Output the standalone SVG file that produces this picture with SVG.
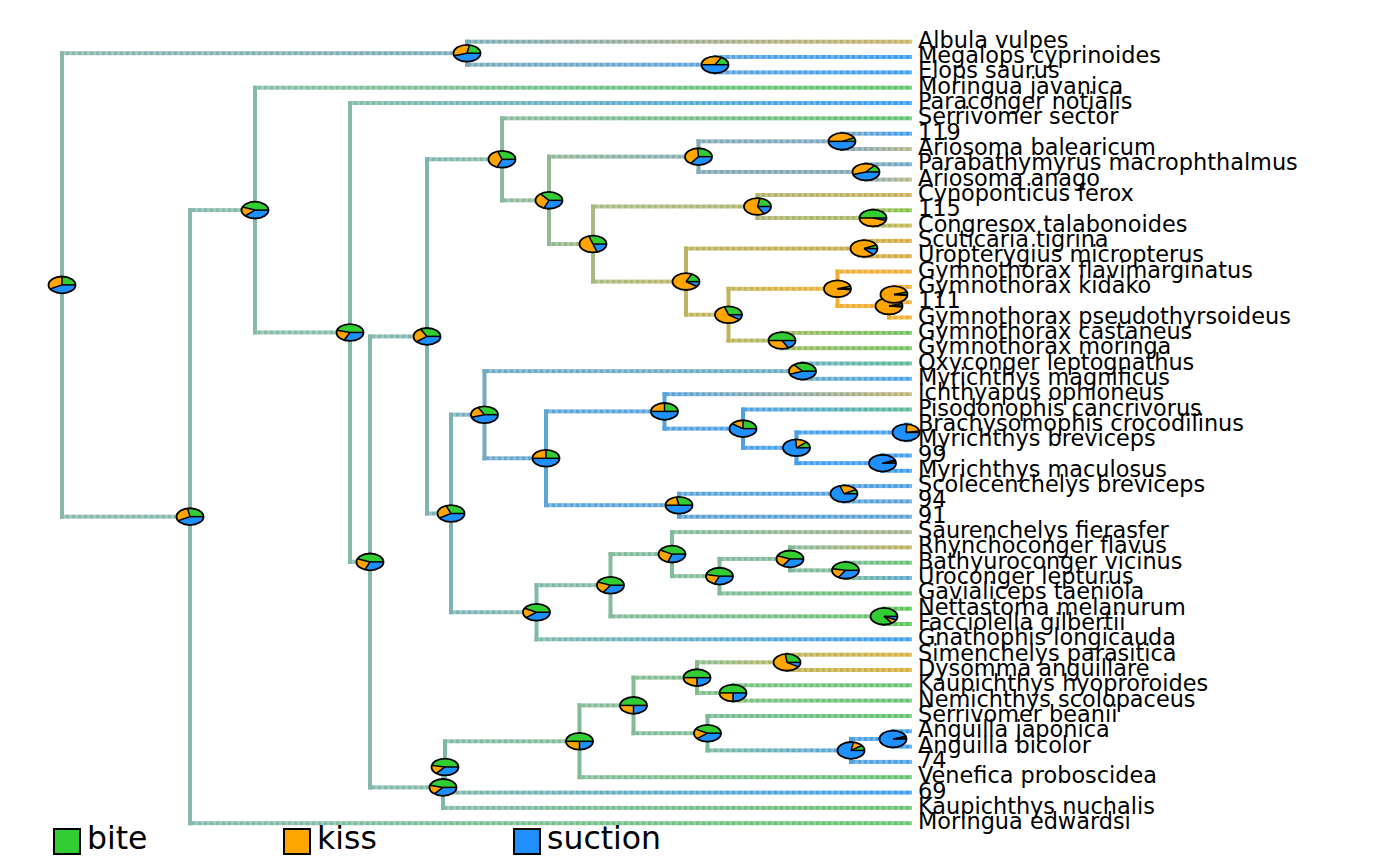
<svg xmlns="http://www.w3.org/2000/svg" xmlns:xlink="http://www.w3.org/1999/xlink" width="1400" height="866" viewBox="0 0 1400 866">
<style>
text{font-family:"DejaVu Sans","Liberation Sans",sans-serif;font-size:22.4px;fill:#000}
.lg{font-size:31.5px}
.v{stroke-width:4;stroke-linecap:square;fill:none}
.pb{fill:#1E90FF}
.pg{fill:none;stroke:#32CD32;stroke-width:13.5}
.po{fill:none;stroke:#FFA500;stroke-width:13.5}
.sep{stroke:#000;stroke-width:1.5;vector-effect:non-scaling-stroke;fill:none}
.ol{fill:none;stroke:#000;stroke-width:1.8}
.key{stroke:#000;stroke-width:2}
</style>
<defs>
<path id="s" class="sep" d="M0 0H13.5"/>
<pattern id="dp" width="6" height="6" patternUnits="userSpaceOnUse"><rect width="3" height="6" fill="#fff"/><rect x="3" width="3" height="6" fill="#c4c4c4"/></pattern>
<mask id="dm" maskUnits="userSpaceOnUse" x="0" y="0" width="1400" height="866"><rect width="1400" height="866" fill="url(#dp)"/></mask>
<linearGradient id="b1"><stop offset="0" stop-color="#88b8ac"/><stop offset="1" stop-color="#7aaab8"/></linearGradient>
<linearGradient id="b2"><stop offset="0" stop-color="#88b8ac"/><stop offset="1" stop-color="#86b8ae"/></linearGradient>
<linearGradient id="b3"><stop offset="0" stop-color="#7aaab8"/><stop offset="1" stop-color="#c8b066"/></linearGradient>
<linearGradient id="b4"><stop offset="0" stop-color="#7aaab8"/><stop offset="1" stop-color="#5ea4dc"/></linearGradient>
<linearGradient id="b5"><stop offset="0" stop-color="#5ea4dc"/><stop offset="1" stop-color="#3c9cf0"/></linearGradient>
<linearGradient id="b7"><stop offset="0" stop-color="#86b8ae"/><stop offset="1" stop-color="#86bca6"/></linearGradient>
<linearGradient id="b8"><stop offset="0" stop-color="#86b8ae"/><stop offset="1" stop-color="#66c46e"/></linearGradient>
<linearGradient id="b9"><stop offset="0" stop-color="#86bca6"/><stop offset="1" stop-color="#60c46a"/></linearGradient>
<linearGradient id="b10"><stop offset="0" stop-color="#86bca6"/><stop offset="1" stop-color="#84bca8"/></linearGradient>
<linearGradient id="b11"><stop offset="0" stop-color="#84bca8"/><stop offset="1" stop-color="#3c9cf0"/></linearGradient>
<linearGradient id="b12"><stop offset="0" stop-color="#84bca8"/><stop offset="1" stop-color="#84b8ac"/></linearGradient>
<linearGradient id="b13"><stop offset="0" stop-color="#84b8ac"/><stop offset="1" stop-color="#7eb2b4"/></linearGradient>
<linearGradient id="b14"><stop offset="0" stop-color="#84b8ac"/><stop offset="1" stop-color="#82b8aa"/></linearGradient>
<linearGradient id="b15"><stop offset="0" stop-color="#7eb2b4"/><stop offset="1" stop-color="#8cba9e"/></linearGradient>
<linearGradient id="b16"><stop offset="0" stop-color="#7eb2b4"/><stop offset="1" stop-color="#7ab2b8"/></linearGradient>
<linearGradient id="b17"><stop offset="0" stop-color="#8cba9e"/><stop offset="1" stop-color="#62c070"/></linearGradient>
<linearGradient id="b18"><stop offset="0" stop-color="#8cba9e"/><stop offset="1" stop-color="#92b896"/></linearGradient>
<linearGradient id="b19"><stop offset="0" stop-color="#92b896"/><stop offset="1" stop-color="#84aab4"/></linearGradient>
<linearGradient id="b20"><stop offset="0" stop-color="#92b896"/><stop offset="1" stop-color="#a6ba82"/></linearGradient>
<linearGradient id="b21"><stop offset="0" stop-color="#84aab4"/><stop offset="1" stop-color="#7ca6c0"/></linearGradient>
<linearGradient id="b22"><stop offset="0" stop-color="#84aab4"/><stop offset="1" stop-color="#86a8b4"/></linearGradient>
<linearGradient id="b23"><stop offset="0" stop-color="#7ca6c0"/><stop offset="1" stop-color="#3c9cf0"/></linearGradient>
<linearGradient id="b24"><stop offset="0" stop-color="#7ca6c0"/><stop offset="1" stop-color="#b4b48a"/></linearGradient>
<linearGradient id="b25"><stop offset="0" stop-color="#86a8b4"/><stop offset="1" stop-color="#6aa8c8"/></linearGradient>
<linearGradient id="b26"><stop offset="0" stop-color="#86a8b4"/><stop offset="1" stop-color="#b8b486"/></linearGradient>
<linearGradient id="b27"><stop offset="0" stop-color="#a6ba82"/><stop offset="1" stop-color="#b0b472"/></linearGradient>
<linearGradient id="b28"><stop offset="0" stop-color="#a6ba82"/><stop offset="1" stop-color="#bcb460"/></linearGradient>
<linearGradient id="b29"><stop offset="0" stop-color="#b0b472"/><stop offset="1" stop-color="#c8b060"/></linearGradient>
<linearGradient id="b30"><stop offset="0" stop-color="#b0b472"/><stop offset="1" stop-color="#a8b868"/></linearGradient>
<linearGradient id="b31"><stop offset="0" stop-color="#a8b868"/><stop offset="1" stop-color="#80c040"/></linearGradient>
<linearGradient id="b32"><stop offset="0" stop-color="#a8b868"/><stop offset="1" stop-color="#c8b450"/></linearGradient>
<linearGradient id="b33"><stop offset="0" stop-color="#bcb460"/><stop offset="1" stop-color="#c8aa50"/></linearGradient>
<linearGradient id="b34"><stop offset="0" stop-color="#bcb460"/><stop offset="1" stop-color="#c0b45a"/></linearGradient>
<linearGradient id="b35"><stop offset="0" stop-color="#c8aa50"/><stop offset="1" stop-color="#d8ac40"/></linearGradient>
<linearGradient id="b37"><stop offset="0" stop-color="#c0b45a"/><stop offset="1" stop-color="#eeb038"/></linearGradient>
<linearGradient id="b38"><stop offset="0" stop-color="#c0b45a"/><stop offset="1" stop-color="#a0b864"/></linearGradient>
<linearGradient id="b45"><stop offset="0" stop-color="#a0b864"/><stop offset="1" stop-color="#70c060"/></linearGradient>
<linearGradient id="b47"><stop offset="0" stop-color="#7ab2b8"/><stop offset="1" stop-color="#72aac4"/></linearGradient>
<linearGradient id="b48"><stop offset="0" stop-color="#7ab2b8"/><stop offset="1" stop-color="#80b8ac"/></linearGradient>
<linearGradient id="b49"><stop offset="0" stop-color="#72aac4"/><stop offset="1" stop-color="#6eaec0"/></linearGradient>
<linearGradient id="b50"><stop offset="0" stop-color="#72aac4"/><stop offset="1" stop-color="#5ea4d4"/></linearGradient>
<linearGradient id="b51"><stop offset="0" stop-color="#6eaec0"/><stop offset="1" stop-color="#5cb896"/></linearGradient>
<linearGradient id="b52"><stop offset="0" stop-color="#6eaec0"/><stop offset="1" stop-color="#4aa0e8"/></linearGradient>
<linearGradient id="b53"><stop offset="0" stop-color="#5ea4d4"/><stop offset="1" stop-color="#58a2dc"/></linearGradient>
<linearGradient id="b55"><stop offset="0" stop-color="#58a2dc"/><stop offset="1" stop-color="#c0b070"/></linearGradient>
<linearGradient id="b56"><stop offset="0" stop-color="#58a2dc"/><stop offset="1" stop-color="#4fa0e4"/></linearGradient>
<linearGradient id="b57"><stop offset="0" stop-color="#4fa0e4"/><stop offset="1" stop-color="#5cb896"/></linearGradient>
<linearGradient id="b58"><stop offset="0" stop-color="#4fa0e4"/><stop offset="1" stop-color="#46a0ea"/></linearGradient>
<linearGradient id="b65"><stop offset="0" stop-color="#5ca4d4"/><stop offset="1" stop-color="#56a0dc"/></linearGradient>
<linearGradient id="b67"><stop offset="0" stop-color="#56a0dc"/><stop offset="1" stop-color="#4a9ee0"/></linearGradient>
<linearGradient id="b69"><stop offset="0" stop-color="#80b8ac"/><stop offset="1" stop-color="#84ba9e"/></linearGradient>
<linearGradient id="b70"><stop offset="0" stop-color="#80b8ac"/><stop offset="1" stop-color="#3c9cf0"/></linearGradient>
<linearGradient id="b72"><stop offset="0" stop-color="#84ba9e"/><stop offset="1" stop-color="#6cc070"/></linearGradient>
<linearGradient id="b73"><stop offset="0" stop-color="#84bc9c"/><stop offset="1" stop-color="#a8b090"/></linearGradient>
<linearGradient id="b76"><stop offset="0" stop-color="#82bc98"/><stop offset="1" stop-color="#66c070"/></linearGradient>
<linearGradient id="b77"><stop offset="0" stop-color="#84b89c"/><stop offset="1" stop-color="#c0b060"/></linearGradient>
<linearGradient id="b79"><stop offset="0" stop-color="#7cba98"/><stop offset="1" stop-color="#66c070"/></linearGradient>
<linearGradient id="b80"><stop offset="0" stop-color="#7cba98"/><stop offset="1" stop-color="#5aa6d0"/></linearGradient>
<linearGradient id="b81"><stop offset="0" stop-color="#6cc070"/><stop offset="1" stop-color="#50c850"/></linearGradient>
<linearGradient id="b84"><stop offset="0" stop-color="#82b8aa"/><stop offset="1" stop-color="#6cc070"/></linearGradient>
<linearGradient id="b85"><stop offset="0" stop-color="#80b8a6"/><stop offset="1" stop-color="#84bc98"/></linearGradient>
<linearGradient id="b86"><stop offset="0" stop-color="#80b8a6"/><stop offset="1" stop-color="#3c9cf0"/></linearGradient>
<linearGradient id="b88"><stop offset="0" stop-color="#84bc98"/><stop offset="1" stop-color="#66c070"/></linearGradient>
<linearGradient id="b90"><stop offset="0" stop-color="#84bc96"/><stop offset="1" stop-color="#7cba9c"/></linearGradient>
<linearGradient id="b91"><stop offset="0" stop-color="#86bc90"/><stop offset="1" stop-color="#bab45c"/></linearGradient>
<linearGradient id="b93"><stop offset="0" stop-color="#bab45c"/><stop offset="1" stop-color="#d8b040"/></linearGradient>
<linearGradient id="b95"><stop offset="0" stop-color="#7cc084"/><stop offset="1" stop-color="#66c070"/></linearGradient>
<linearGradient id="b98"><stop offset="0" stop-color="#7cba9c"/><stop offset="1" stop-color="#56a2dc"/></linearGradient>
<linearGradient id="b99"><stop offset="0" stop-color="#56a2dc"/><stop offset="1" stop-color="#3f9cf2"/></linearGradient>
<linearGradient id="b100"><stop offset="0" stop-color="#56a2dc"/><stop offset="1" stop-color="#4aa0e8"/></linearGradient>
</defs>
<rect width="1400" height="866" fill="#fff"/>
<g id="connectors">
<g id="verticals" class="v">
<line x1="62" y1="53.2" x2="62" y2="516.65" stroke="#88b8ac"/>
<line x1="467" y1="41.7" x2="467" y2="64.7" stroke="#7aaab8"/>
<line x1="715" y1="57" x2="715" y2="72.4" stroke="#5ea4dc"/>
<line x1="190" y1="210.1" x2="190" y2="823.2" stroke="#86b8ae"/>
<line x1="255" y1="87.7" x2="255" y2="332.45" stroke="#86bca6"/>
<line x1="350" y1="103" x2="350" y2="561.9" stroke="#84bca8"/>
<line x1="370" y1="336.4" x2="370" y2="787.4" stroke="#84b8ac"/>
<line x1="427" y1="159.3" x2="427" y2="513.5" stroke="#7eb2b4"/>
<line x1="502" y1="118.3" x2="502" y2="200.35" stroke="#8cba9e"/>
<line x1="549" y1="156.65" x2="549" y2="244.05" stroke="#92b896"/>
<line x1="698.5" y1="141.35" x2="698.5" y2="171.95" stroke="#84aab4"/>
<line x1="842" y1="133.7" x2="842" y2="149" stroke="#7ca6c0"/>
<line x1="866" y1="164.3" x2="866" y2="179.6" stroke="#86a8b4"/>
<line x1="593" y1="206.5" x2="593" y2="281.6" stroke="#a6ba82"/>
<line x1="757.5" y1="195" x2="757.5" y2="217.95" stroke="#b0b472"/>
<line x1="873" y1="210.3" x2="873" y2="225.6" stroke="#a8b868"/>
<line x1="686" y1="248.55" x2="686" y2="314.7" stroke="#bcb460"/>
<line x1="864" y1="240.9" x2="864" y2="256.2" stroke="#c8aa50"/>
<line x1="728.5" y1="288.8" x2="728.5" y2="340.55" stroke="#c0b45a"/>
<line x1="837.5" y1="271.6" x2="837.5" y2="306" stroke="#eeb038"/>
<line x1="889" y1="294.55" x2="889" y2="317.5" stroke="#f0ae34"/>
<line x1="894" y1="286.9" x2="894" y2="302.2" stroke="#f0ae34"/>
<line x1="782" y1="332.9" x2="782" y2="348.2" stroke="#a0b864"/>
<line x1="451" y1="414.7" x2="451" y2="612.25" stroke="#7ab2b8"/>
<line x1="484.5" y1="371.15" x2="484.5" y2="458.3" stroke="#72aac4"/>
<line x1="802.5" y1="363.5" x2="802.5" y2="378.8" stroke="#6eaec0"/>
<line x1="546" y1="411.4" x2="546" y2="505.2" stroke="#5ea4d4"/>
<line x1="664.5" y1="394.2" x2="664.5" y2="428.65" stroke="#58a2dc"/>
<line x1="743" y1="409.5" x2="743" y2="447.8" stroke="#4fa0e4"/>
<line x1="796.5" y1="432.45" x2="796.5" y2="463.15" stroke="#46a0ea"/>
<line x1="906" y1="424.8" x2="906" y2="440.1" stroke="#4a9eea"/>
<line x1="882.5" y1="455.5" x2="882.5" y2="470.8" stroke="#409cf0"/>
<line x1="679" y1="493.75" x2="679" y2="516.7" stroke="#5ca4d4"/>
<line x1="844" y1="486.1" x2="844" y2="501.4" stroke="#56a0dc"/>
<line x1="536.5" y1="585.2" x2="536.5" y2="639.3" stroke="#80b8ac"/>
<line x1="610.5" y1="554.1" x2="610.5" y2="616.35" stroke="#84ba9e"/>
<line x1="672" y1="532.1" x2="672" y2="576.15" stroke="#84bc9c"/>
<line x1="719.5" y1="558.9" x2="719.5" y2="593.4" stroke="#82bc98"/>
<line x1="790" y1="547.4" x2="790" y2="570.35" stroke="#84b89c"/>
<line x1="845.5" y1="562.7" x2="845.5" y2="578" stroke="#7cba98"/>
<line x1="884" y1="608.7" x2="884" y2="624" stroke="#6cc070"/>
<line x1="443" y1="766.95" x2="443" y2="807.9" stroke="#82b8aa"/>
<line x1="445" y1="741.3" x2="445" y2="792.6" stroke="#80b8a6"/>
<line x1="579.5" y1="705.4" x2="579.5" y2="777.2" stroke="#84bc98"/>
<line x1="633.5" y1="677.65" x2="633.5" y2="733.2" stroke="#84bc96"/>
<line x1="697" y1="662.35" x2="697" y2="692.95" stroke="#86bc90"/>
<line x1="787" y1="654.7" x2="787" y2="670" stroke="#bab45c"/>
<line x1="733" y1="685.3" x2="733" y2="700.6" stroke="#7cc084"/>
<line x1="707.5" y1="716" x2="707.5" y2="750.4" stroke="#7cba9c"/>
<line x1="851" y1="738.95" x2="851" y2="761.9" stroke="#56a2dc"/>
<line x1="893" y1="731.3" x2="893" y2="746.6" stroke="#3f9cf2"/>
</g>
<g id="horizontals" mask="url(#dm)">
<rect x="60" y="51.2" width="407" height="4" fill="url(#b1)"/>
<rect x="60" y="514.65" width="130" height="4" fill="url(#b2)"/>
<rect x="465" y="39.7" width="447" height="4" fill="url(#b3)"/>
<rect x="465" y="62.7" width="250" height="4" fill="url(#b4)"/>
<rect x="713" y="55" width="199" height="4" fill="url(#b5)"/>
<rect x="713" y="70.4" width="199" height="4" fill="url(#b5)"/>
<rect x="188" y="208.1" width="67" height="4" fill="url(#b7)"/>
<rect x="188" y="821.2" width="724" height="4" fill="url(#b8)"/>
<rect x="253" y="85.7" width="659" height="4" fill="url(#b9)"/>
<rect x="253" y="330.45" width="97" height="4" fill="url(#b10)"/>
<rect x="348" y="101" width="564" height="4" fill="url(#b11)"/>
<rect x="348" y="559.9" width="22" height="4" fill="url(#b12)"/>
<rect x="368" y="334.4" width="59" height="4" fill="url(#b13)"/>
<rect x="368" y="785.4" width="75" height="4" fill="url(#b14)"/>
<rect x="425" y="157.3" width="77" height="4" fill="url(#b15)"/>
<rect x="425" y="511.5" width="26" height="4" fill="url(#b16)"/>
<rect x="500" y="116.3" width="412" height="4" fill="url(#b17)"/>
<rect x="500" y="198.35" width="49" height="4" fill="url(#b18)"/>
<rect x="547" y="154.65" width="151.5" height="4" fill="url(#b19)"/>
<rect x="547" y="242.05" width="46" height="4" fill="url(#b20)"/>
<rect x="696.5" y="139.35" width="145.5" height="4" fill="url(#b21)"/>
<rect x="696.5" y="169.95" width="169.5" height="4" fill="url(#b22)"/>
<rect x="840" y="131.7" width="72" height="4" fill="url(#b23)"/>
<rect x="840" y="147" width="72" height="4" fill="url(#b24)"/>
<rect x="864" y="162.3" width="48" height="4" fill="url(#b25)"/>
<rect x="864" y="177.6" width="48" height="4" fill="url(#b26)"/>
<rect x="591" y="204.5" width="166.5" height="4" fill="url(#b27)"/>
<rect x="591" y="279.6" width="95" height="4" fill="url(#b28)"/>
<rect x="755.5" y="193" width="156.5" height="4" fill="url(#b29)"/>
<rect x="755.5" y="215.95" width="117.5" height="4" fill="url(#b30)"/>
<rect x="871" y="208.3" width="41" height="4" fill="url(#b31)"/>
<rect x="871" y="223.6" width="41" height="4" fill="url(#b32)"/>
<rect x="684" y="246.55" width="180" height="4" fill="url(#b33)"/>
<rect x="684" y="312.7" width="44.5" height="4" fill="url(#b34)"/>
<rect x="862" y="238.9" width="50" height="4" fill="url(#b35)"/>
<rect x="862" y="254.2" width="50" height="4" fill="url(#b35)"/>
<rect x="726.5" y="286.8" width="111" height="4" fill="url(#b37)"/>
<rect x="726.5" y="338.55" width="55.5" height="4" fill="url(#b38)"/>
<rect x="835.5" y="269.6" width="76.5" height="4" fill="#efae36"/>
<rect x="835.5" y="304" width="53.5" height="4" fill="#f0ae34"/>
<rect x="887" y="292.55" width="7" height="4" fill="#f0ae34"/>
<rect x="887" y="315.5" width="25" height="4" fill="#f0ae34"/>
<rect x="892" y="284.9" width="20" height="4" fill="#f0ae34"/>
<rect x="892" y="300.2" width="20" height="4" fill="#f0ae34"/>
<rect x="780" y="330.9" width="132" height="4" fill="url(#b45)"/>
<rect x="780" y="346.2" width="132" height="4" fill="url(#b45)"/>
<rect x="449" y="412.7" width="35.5" height="4" fill="url(#b47)"/>
<rect x="449" y="610.25" width="87.5" height="4" fill="url(#b48)"/>
<rect x="482.5" y="369.15" width="320" height="4" fill="url(#b49)"/>
<rect x="482.5" y="456.3" width="63.5" height="4" fill="url(#b50)"/>
<rect x="800.5" y="361.5" width="111.5" height="4" fill="url(#b51)"/>
<rect x="800.5" y="376.8" width="111.5" height="4" fill="url(#b52)"/>
<rect x="544" y="409.4" width="120.5" height="4" fill="url(#b53)"/>
<rect x="544" y="503.2" width="135" height="4" fill="#5ca4d4"/>
<rect x="662.5" y="392.2" width="249.5" height="4" fill="url(#b55)"/>
<rect x="662.5" y="426.65" width="80.5" height="4" fill="url(#b56)"/>
<rect x="741" y="407.5" width="171" height="4" fill="url(#b57)"/>
<rect x="741" y="445.8" width="55.5" height="4" fill="url(#b58)"/>
<rect x="794.5" y="430.45" width="111.5" height="4" fill="#48a0ea"/>
<rect x="794.5" y="461.15" width="88" height="4" fill="#429ef0"/>
<rect x="904" y="422.8" width="8" height="4" fill="#3c9cf0"/>
<rect x="904" y="438.1" width="8" height="4" fill="#3c9cf0"/>
<rect x="880.5" y="453.5" width="31.5" height="4" fill="#3c9cf0"/>
<rect x="880.5" y="468.8" width="31.5" height="4" fill="#3c9cf0"/>
<rect x="677" y="491.75" width="167" height="4" fill="url(#b65)"/>
<rect x="677" y="514.7" width="235" height="4" fill="#5aa2d2"/>
<rect x="842" y="484.1" width="70" height="4" fill="url(#b67)"/>
<rect x="842" y="499.4" width="70" height="4" fill="#58a0d6"/>
<rect x="534.5" y="583.2" width="76" height="4" fill="url(#b69)"/>
<rect x="534.5" y="637.3" width="377.5" height="4" fill="url(#b70)"/>
<rect x="608.5" y="552.1" width="63.5" height="4" fill="#84bb9d"/>
<rect x="608.5" y="614.35" width="275.5" height="4" fill="url(#b72)"/>
<rect x="670" y="530.1" width="242" height="4" fill="url(#b73)"/>
<rect x="670" y="574.15" width="49.5" height="4" fill="#83bc9a"/>
<rect x="717.5" y="556.9" width="72.5" height="4" fill="#83ba9a"/>
<rect x="717.5" y="591.4" width="194.5" height="4" fill="url(#b76)"/>
<rect x="788" y="545.4" width="124" height="4" fill="url(#b77)"/>
<rect x="788" y="568.35" width="57.5" height="4" fill="#80b99a"/>
<rect x="843.5" y="560.7" width="68.5" height="4" fill="url(#b79)"/>
<rect x="843.5" y="576" width="68.5" height="4" fill="url(#b80)"/>
<rect x="882" y="606.7" width="30" height="4" fill="url(#b81)"/>
<rect x="882" y="622" width="30" height="4" fill="url(#b81)"/>
<rect x="441" y="764.95" width="4" height="4" fill="#81b8a8"/>
<rect x="441" y="805.9" width="471" height="4" fill="url(#b84)"/>
<rect x="443" y="739.3" width="136.5" height="4" fill="url(#b85)"/>
<rect x="443" y="790.6" width="469" height="4" fill="url(#b86)"/>
<rect x="577.5" y="703.4" width="56" height="4" fill="#84bc97"/>
<rect x="577.5" y="775.2" width="334.5" height="4" fill="url(#b88)"/>
<rect x="631.5" y="675.65" width="65.5" height="4" fill="#85bc93"/>
<rect x="631.5" y="731.2" width="76" height="4" fill="url(#b90)"/>
<rect x="695" y="660.35" width="92" height="4" fill="url(#b91)"/>
<rect x="695" y="690.95" width="38" height="4" fill="#82be8a"/>
<rect x="785" y="652.7" width="127" height="4" fill="url(#b93)"/>
<rect x="785" y="668" width="127" height="4" fill="url(#b93)"/>
<rect x="731" y="683.3" width="181" height="4" fill="url(#b95)"/>
<rect x="731" y="698.6" width="181" height="4" fill="url(#b95)"/>
<rect x="705.5" y="714" width="206.5" height="4" fill="url(#b79)"/>
<rect x="705.5" y="748.4" width="145.5" height="4" fill="url(#b98)"/>
<rect x="849" y="736.95" width="44" height="4" fill="url(#b99)"/>
<rect x="849" y="759.9" width="63" height="4" fill="url(#b100)"/>
<rect x="891" y="729.3" width="21" height="4" fill="#3c9cf0"/>
<rect x="891" y="744.6" width="21" height="4" fill="#3c9cf0"/>
</g>
</g>
<g id="nodes">
<g id="n_root" transform="translate(62 284.9)"><ellipse class="pb" rx="13.5" ry="8.4"/><g transform="scale(1 -0.6222)"><circle class="pg" r="6.75" pathLength="100" stroke-dasharray="25 100"/><circle class="po" r="6.75" pathLength="100" stroke-dasharray="33 100" stroke-dashoffset="-25"/><use href="#s"/><use href="#s" transform="rotate(90)"/><use href="#s" transform="rotate(208.8)"/></g><ellipse class="ol" rx="13.5" ry="8.4"/></g>
<g id="n_A" transform="translate(467 53.2)"><ellipse class="pb" rx="13.5" ry="8.4"/><g transform="scale(1 -0.6222)"><circle class="pg" r="6.75" pathLength="100" stroke-dasharray="22 100"/><circle class="po" r="6.75" pathLength="100" stroke-dasharray="33 100" stroke-dashoffset="-22"/><use href="#s"/><use href="#s" transform="rotate(79.2)"/><use href="#s" transform="rotate(198)"/></g><ellipse class="ol" rx="13.5" ry="8.4"/></g>
<g id="n_ME" transform="translate(715 64.7)"><ellipse class="pb" rx="13.5" ry="8.4"/><g transform="scale(1 -0.6222)"><circle class="pg" r="6.75" pathLength="100" stroke-dasharray="17 100"/><circle class="po" r="6.75" pathLength="100" stroke-dasharray="33 100" stroke-dashoffset="-17"/><use href="#s"/><use href="#s" transform="rotate(61.2)"/><use href="#s" transform="rotate(180)"/></g><ellipse class="ol" rx="13.5" ry="8.4"/></g>
<g id="n_B" transform="translate(190 516.65)"><ellipse class="pb" rx="13.5" ry="8.4"/><g transform="scale(1 -0.6222)"><circle class="pg" r="6.75" pathLength="100" stroke-dasharray="28 100"/><circle class="po" r="6.75" pathLength="100" stroke-dasharray="30 100" stroke-dashoffset="-28"/><use href="#s"/><use href="#s" transform="rotate(100.8)"/><use href="#s" transform="rotate(208.8)"/></g><ellipse class="ol" rx="13.5" ry="8.4"/></g>
<g id="n_C" transform="translate(255 210.1)"><ellipse class="pb" rx="13.5" ry="8.4"/><g transform="scale(1 -0.6222)"><circle class="pg" r="6.75" pathLength="100" stroke-dasharray="44 100"/><circle class="po" r="6.75" pathLength="100" stroke-dasharray="18 100" stroke-dashoffset="-44"/><use href="#s"/><use href="#s" transform="rotate(158.4)"/><use href="#s" transform="rotate(223.2)"/></g><ellipse class="ol" rx="13.5" ry="8.4"/></g>
<g id="n_D" transform="translate(350 332.45)"><ellipse class="pb" rx="13.5" ry="8.4"/><g transform="scale(1 -0.6222)"><circle class="pg" r="6.75" pathLength="100" stroke-dasharray="46 100"/><circle class="po" r="6.75" pathLength="100" stroke-dasharray="22 100" stroke-dashoffset="-46"/><use href="#s"/><use href="#s" transform="rotate(165.6)"/><use href="#s" transform="rotate(244.8)"/></g><ellipse class="ol" rx="13.5" ry="8.4"/></g>
<g id="n_E" transform="translate(370 561.9)"><ellipse class="pb" rx="13.5" ry="8.4"/><g transform="scale(1 -0.6222)"><circle class="pg" r="6.75" pathLength="100" stroke-dasharray="44 100"/><circle class="po" r="6.75" pathLength="100" stroke-dasharray="25 100" stroke-dashoffset="-44"/><use href="#s"/><use href="#s" transform="rotate(158.4)"/><use href="#s" transform="rotate(248.4)"/></g><ellipse class="ol" rx="13.5" ry="8.4"/></g>
<g id="n_F" transform="translate(427 336.4)"><ellipse class="pb" rx="13.5" ry="8.4"/><g transform="scale(1 -0.6222)"><circle class="pg" r="6.75" pathLength="100" stroke-dasharray="33 100"/><circle class="po" r="6.75" pathLength="100" stroke-dasharray="28 100" stroke-dashoffset="-33"/><use href="#s"/><use href="#s" transform="rotate(118.8)"/><use href="#s" transform="rotate(219.6)"/></g><ellipse class="ol" rx="13.5" ry="8.4"/></g>
<g id="n_H" transform="translate(502 159.3)"><ellipse class="pb" rx="13.5" ry="8.4"/><g transform="scale(1 -0.6222)"><circle class="pg" r="6.75" pathLength="100" stroke-dasharray="30 100"/><circle class="po" r="6.75" pathLength="100" stroke-dasharray="39 100" stroke-dashoffset="-30"/><use href="#s"/><use href="#s" transform="rotate(108)"/><use href="#s" transform="rotate(248.4)"/></g><ellipse class="ol" rx="13.5" ry="8.4"/></g>
<g id="n_J" transform="translate(549 200.35)"><ellipse class="pb" rx="13.5" ry="8.4"/><g transform="scale(1 -0.6222)"><circle class="pg" r="6.75" pathLength="100" stroke-dasharray="36 100"/><circle class="po" r="6.75" pathLength="100" stroke-dasharray="33 100" stroke-dashoffset="-36"/><use href="#s"/><use href="#s" transform="rotate(129.6)"/><use href="#s" transform="rotate(248.4)"/></g><ellipse class="ol" rx="13.5" ry="8.4"/></g>
<g id="n_K" transform="translate(698.5 156.65)"><ellipse class="pb" rx="13.5" ry="8.4"/><g transform="scale(1 -0.6222)"><circle class="pg" r="6.75" pathLength="100" stroke-dasharray="26 100"/><circle class="po" r="6.75" pathLength="100" stroke-dasharray="39 100" stroke-dashoffset="-26"/><use href="#s"/><use href="#s" transform="rotate(93.6)"/><use href="#s" transform="rotate(234)"/></g><ellipse class="ol" rx="13.5" ry="8.4"/></g>
<g id="n_119_Abal" transform="translate(842 141.35)"><ellipse class="pb" rx="13.5" ry="8.4"/><g transform="scale(1 -0.6222)"><circle class="pg" r="6.75" pathLength="100" stroke-dasharray="7 100"/><circle class="po" r="6.75" pathLength="100" stroke-dasharray="43 100" stroke-dashoffset="-7"/><use href="#s"/><use href="#s" transform="rotate(25.2)"/><use href="#s" transform="rotate(180)"/></g><ellipse class="ol" rx="13.5" ry="8.4"/></g>
<g id="n_Para_Aana" transform="translate(866 171.95)"><ellipse class="pb" rx="13.5" ry="8.4"/><g transform="scale(1 -0.6222)"><circle class="pg" r="6.75" pathLength="100" stroke-dasharray="14 100"/><circle class="po" r="6.75" pathLength="100" stroke-dasharray="41 100" stroke-dashoffset="-14"/><use href="#s"/><use href="#s" transform="rotate(50.4)"/><use href="#s" transform="rotate(198)"/></g><ellipse class="ol" rx="13.5" ry="8.4"/></g>
<g id="n_L" transform="translate(593 244.05)"><ellipse class="pb" rx="13.5" ry="8.4"/><g transform="scale(1 -0.6222)"><circle class="pg" r="6.75" pathLength="100" stroke-dasharray="30 100"/><circle class="po" r="6.75" pathLength="100" stroke-dasharray="50 100" stroke-dashoffset="-30"/><use href="#s"/><use href="#s" transform="rotate(108)"/><use href="#s" transform="rotate(288)"/></g><ellipse class="ol" rx="13.5" ry="8.4"/></g>
<g id="n_M" transform="translate(757.5 206.5)"><ellipse class="pb" rx="13.5" ry="8.4"/><g transform="scale(1 -0.6222)"><circle class="pg" r="6.75" pathLength="100" stroke-dasharray="22 100"/><circle class="po" r="6.75" pathLength="100" stroke-dasharray="61 100" stroke-dashoffset="-22"/><use href="#s"/><use href="#s" transform="rotate(79.2)"/><use href="#s" transform="rotate(298.8)"/></g><ellipse class="ol" rx="13.5" ry="8.4"/></g>
<g id="n_115_Cong" transform="translate(873 217.95)"><ellipse class="pb" rx="13.5" ry="8.4"/><g transform="scale(1 -0.6222)"><circle class="pg" r="6.75" pathLength="100" stroke-dasharray="50 100"/><circle class="po" r="6.75" pathLength="100" stroke-dasharray="45 100" stroke-dashoffset="-50"/><use href="#s"/><use href="#s" transform="rotate(180)"/><use href="#s" transform="rotate(342)"/></g><ellipse class="ol" rx="13.5" ry="8.4"/></g>
<g id="n_N" transform="translate(686 281.6)"><ellipse class="pb" rx="13.5" ry="8.4"/><g transform="scale(1 -0.6222)"><circle class="pg" r="6.75" pathLength="100" stroke-dasharray="18 100"/><circle class="po" r="6.75" pathLength="100" stroke-dasharray="72 100" stroke-dashoffset="-18"/><use href="#s"/><use href="#s" transform="rotate(64.8)"/><use href="#s" transform="rotate(324)"/></g><ellipse class="ol" rx="13.5" ry="8.4"/></g>
<g id="n_Scut_Urop" transform="translate(864 248.55)"><ellipse class="pb" rx="13.5" ry="8.4"/><g transform="scale(1 -0.6222)"><circle class="pg" r="6.75" pathLength="100" stroke-dasharray="7 100"/><circle class="po" r="6.75" pathLength="100" stroke-dasharray="80 100" stroke-dashoffset="-7"/><use href="#s"/><use href="#s" transform="rotate(25.2)"/><use href="#s" transform="rotate(313.2)"/></g><ellipse class="ol" rx="13.5" ry="8.4"/></g>
<g id="n_O" transform="translate(728.5 314.7)"><ellipse class="pb" rx="13.5" ry="8.4"/><g transform="scale(1 -0.6222)"><circle class="pg" r="6.75" pathLength="100" stroke-dasharray="30 100"/><circle class="po" r="6.75" pathLength="100" stroke-dasharray="60 100" stroke-dashoffset="-30"/><use href="#s"/><use href="#s" transform="rotate(108)"/><use href="#s" transform="rotate(324)"/></g><ellipse class="ol" rx="13.5" ry="8.4"/></g>
<g id="n_P" transform="translate(837.5 288.8)"><ellipse class="pb" rx="13.5" ry="8.4"/><g transform="scale(1 -0.6222)"><circle class="pg" r="6.75" pathLength="100" stroke-dasharray="5 100"/><circle class="po" r="6.75" pathLength="100" stroke-dasharray="93 100" stroke-dashoffset="-5"/><use href="#s"/><use href="#s" transform="rotate(18)"/><use href="#s" transform="rotate(352.8)"/></g><ellipse class="ol" rx="13.5" ry="8.4"/></g>
<g id="n_R" transform="translate(889 306)"><ellipse class="pb" rx="13.5" ry="8.4"/><g transform="scale(1 -0.6222)"><circle class="pg" r="6.75" pathLength="100" stroke-dasharray="5 100"/><circle class="po" r="6.75" pathLength="100" stroke-dasharray="93 100" stroke-dashoffset="-5"/><use href="#s"/><use href="#s" transform="rotate(18)"/><use href="#s" transform="rotate(352.8)"/></g><ellipse class="ol" rx="13.5" ry="8.4"/></g>
<g id="n_S" transform="translate(894 294.55)"><ellipse class="pb" rx="13.5" ry="8.4"/><g transform="scale(1 -0.6222)"><circle class="pg" r="6.75" pathLength="100" stroke-dasharray="5 100"/><circle class="po" r="6.75" pathLength="100" stroke-dasharray="93 100" stroke-dashoffset="-5"/><use href="#s"/><use href="#s" transform="rotate(18)"/><use href="#s" transform="rotate(352.8)"/></g><ellipse class="ol" rx="13.5" ry="8.4"/></g>
<g id="n_Q" transform="translate(782 340.55)"><ellipse class="pb" rx="13.5" ry="8.4"/><g transform="scale(1 -0.6222)"><circle class="pg" r="6.75" pathLength="100" stroke-dasharray="50 100"/><circle class="po" r="6.75" pathLength="100" stroke-dasharray="33 100" stroke-dashoffset="-50"/><use href="#s"/><use href="#s" transform="rotate(180)"/><use href="#s" transform="rotate(298.8)"/></g><ellipse class="ol" rx="13.5" ry="8.4"/></g>
<g id="n_I" transform="translate(451 513.5)"><ellipse class="pb" rx="13.5" ry="8.4"/><g transform="scale(1 -0.6222)"><circle class="pg" r="6.75" pathLength="100" stroke-dasharray="31 100"/><circle class="po" r="6.75" pathLength="100" stroke-dasharray="28 100" stroke-dashoffset="-31"/><use href="#s"/><use href="#s" transform="rotate(111.6)"/><use href="#s" transform="rotate(212.4)"/></g><ellipse class="ol" rx="13.5" ry="8.4"/></g>
<g id="n_T" transform="translate(484.5 414.7)"><ellipse class="pb" rx="13.5" ry="8.4"/><g transform="scale(1 -0.6222)"><circle class="pg" r="6.75" pathLength="100" stroke-dasharray="33 100"/><circle class="po" r="6.75" pathLength="100" stroke-dasharray="22 100" stroke-dashoffset="-33"/><use href="#s"/><use href="#s" transform="rotate(118.8)"/><use href="#s" transform="rotate(198)"/></g><ellipse class="ol" rx="13.5" ry="8.4"/></g>
<g id="n_Oxy_Mmag" transform="translate(802.5 371.15)"><ellipse class="pb" rx="13.5" ry="8.4"/><g transform="scale(1 -0.6222)"><circle class="pg" r="6.75" pathLength="100" stroke-dasharray="36 100"/><circle class="po" r="6.75" pathLength="100" stroke-dasharray="20 100" stroke-dashoffset="-36"/><use href="#s"/><use href="#s" transform="rotate(129.6)"/><use href="#s" transform="rotate(201.6)"/></g><ellipse class="ol" rx="13.5" ry="8.4"/></g>
<g id="n_V" transform="translate(546 458.3)"><ellipse class="pb" rx="13.5" ry="8.4"/><g transform="scale(1 -0.6222)"><circle class="pg" r="6.75" pathLength="100" stroke-dasharray="25 100"/><circle class="po" r="6.75" pathLength="100" stroke-dasharray="25 100" stroke-dashoffset="-25"/><use href="#s"/><use href="#s" transform="rotate(90)"/><use href="#s" transform="rotate(180)"/></g><ellipse class="ol" rx="13.5" ry="8.4"/></g>
<g id="n_W" transform="translate(664.5 411.4)"><ellipse class="pb" rx="13.5" ry="8.4"/><g transform="scale(1 -0.6222)"><circle class="pg" r="6.75" pathLength="100" stroke-dasharray="25 100"/><circle class="po" r="6.75" pathLength="100" stroke-dasharray="25 100" stroke-dashoffset="-25"/><use href="#s"/><use href="#s" transform="rotate(90)"/><use href="#s" transform="rotate(180)"/></g><ellipse class="ol" rx="13.5" ry="8.4"/></g>
<g id="n_Y" transform="translate(743 428.65)"><ellipse class="pb" rx="13.5" ry="8.4"/><g transform="scale(1 -0.6222)"><circle class="pg" r="6.75" pathLength="100" stroke-dasharray="25 100"/><circle class="po" r="6.75" pathLength="100" stroke-dasharray="15 100" stroke-dashoffset="-25"/><use href="#s"/><use href="#s" transform="rotate(90)"/><use href="#s" transform="rotate(144)"/></g><ellipse class="ol" rx="13.5" ry="8.4"/></g>
<g id="n_Z" transform="translate(796.5 447.8)"><ellipse class="pb" rx="13.5" ry="8.4"/><g transform="scale(1 -0.6222)"><circle class="pg" r="6.75" pathLength="100" stroke-dasharray="12 100"/><circle class="po" r="6.75" pathLength="100" stroke-dasharray="14 100" stroke-dashoffset="-12"/><use href="#s"/><use href="#s" transform="rotate(43.2)"/><use href="#s" transform="rotate(93.6)"/></g><ellipse class="ol" rx="13.5" ry="8.4"/></g>
<g id="n_Brach_Mbrev" transform="translate(906 432.45)"><ellipse class="pb" rx="13.5" ry="8.4"/><g transform="scale(1 -0.6222)"><circle class="pg" r="6.75" pathLength="100" stroke-dasharray="3 100"/><circle class="po" r="6.75" pathLength="100" stroke-dasharray="21 100" stroke-dashoffset="-3"/><use href="#s"/><use href="#s" transform="rotate(10.8)"/><use href="#s" transform="rotate(86.4)"/></g><ellipse class="ol" rx="13.5" ry="8.4"/></g>
<g id="n_99_Mmac" transform="translate(882.5 463.15)"><ellipse class="pb" rx="13.5" ry="8.4"/><g transform="scale(1 -0.6222)"><circle class="pg" r="6.75" pathLength="100" stroke-dasharray="3 100"/><circle class="po" r="6.75" pathLength="100" stroke-dasharray="3 100" stroke-dashoffset="-3"/><use href="#s"/><use href="#s" transform="rotate(10.8)"/><use href="#s" transform="rotate(21.6)"/></g><ellipse class="ol" rx="13.5" ry="8.4"/></g>
<g id="n_X" transform="translate(679 505.2)"><ellipse class="pb" rx="13.5" ry="8.4"/><g transform="scale(1 -0.6222)"><circle class="pg" r="6.75" pathLength="100" stroke-dasharray="28 100"/><circle class="po" r="6.75" pathLength="100" stroke-dasharray="22 100" stroke-dashoffset="-28"/><use href="#s"/><use href="#s" transform="rotate(100.8)"/><use href="#s" transform="rotate(180)"/></g><ellipse class="ol" rx="13.5" ry="8.4"/></g>
<g id="n_Scol_94" transform="translate(844 493.75)"><ellipse class="pb" rx="13.5" ry="8.4"/><g transform="scale(1 -0.6222)"><circle class="pg" r="6.75" pathLength="100" stroke-dasharray="8 100"/><circle class="po" r="6.75" pathLength="100" stroke-dasharray="22 100" stroke-dashoffset="-8"/><use href="#s"/><use href="#s" transform="rotate(28.8)"/><use href="#s" transform="rotate(108)"/></g><ellipse class="ol" rx="13.5" ry="8.4"/></g>
<g id="n_U" transform="translate(536.5 612.25)"><ellipse class="pb" rx="13.5" ry="8.4"/><g transform="scale(1 -0.6222)"><circle class="pg" r="6.75" pathLength="100" stroke-dasharray="42 100"/><circle class="po" r="6.75" pathLength="100" stroke-dasharray="19 100" stroke-dashoffset="-42"/><use href="#s"/><use href="#s" transform="rotate(151.2)"/><use href="#s" transform="rotate(219.6)"/></g><ellipse class="ol" rx="13.5" ry="8.4"/></g>
<g id="n_AA" transform="translate(610.5 585.2)"><ellipse class="pb" rx="13.5" ry="8.4"/><g transform="scale(1 -0.6222)"><circle class="pg" r="6.75" pathLength="100" stroke-dasharray="44 100"/><circle class="po" r="6.75" pathLength="100" stroke-dasharray="22 100" stroke-dashoffset="-44"/><use href="#s"/><use href="#s" transform="rotate(158.4)"/><use href="#s" transform="rotate(237.6)"/></g><ellipse class="ol" rx="13.5" ry="8.4"/></g>
<g id="n_AB" transform="translate(672 554.1)"><ellipse class="pb" rx="13.5" ry="8.4"/><g transform="scale(1 -0.6222)"><circle class="pg" r="6.75" pathLength="100" stroke-dasharray="42 100"/><circle class="po" r="6.75" pathLength="100" stroke-dasharray="28 100" stroke-dashoffset="-42"/><use href="#s"/><use href="#s" transform="rotate(151.2)"/><use href="#s" transform="rotate(252)"/></g><ellipse class="ol" rx="13.5" ry="8.4"/></g>
<g id="n_AC" transform="translate(719.5 576.15)"><ellipse class="pb" rx="13.5" ry="8.4"/><g transform="scale(1 -0.6222)"><circle class="pg" r="6.75" pathLength="100" stroke-dasharray="47 100"/><circle class="po" r="6.75" pathLength="100" stroke-dasharray="22 100" stroke-dashoffset="-47"/><use href="#s"/><use href="#s" transform="rotate(169.2)"/><use href="#s" transform="rotate(248.4)"/></g><ellipse class="ol" rx="13.5" ry="8.4"/></g>
<g id="n_AD" transform="translate(790 558.9)"><ellipse class="pb" rx="13.5" ry="8.4"/><g transform="scale(1 -0.6222)"><circle class="pg" r="6.75" pathLength="100" stroke-dasharray="44 100"/><circle class="po" r="6.75" pathLength="100" stroke-dasharray="22 100" stroke-dashoffset="-44"/><use href="#s"/><use href="#s" transform="rotate(158.4)"/><use href="#s" transform="rotate(237.6)"/></g><ellipse class="ol" rx="13.5" ry="8.4"/></g>
<g id="n_Bath_Uroc" transform="translate(845.5 570.35)"><ellipse class="pb" rx="13.5" ry="8.4"/><g transform="scale(1 -0.6222)"><circle class="pg" r="6.75" pathLength="100" stroke-dasharray="47 100"/><circle class="po" r="6.75" pathLength="100" stroke-dasharray="19 100" stroke-dashoffset="-47"/><use href="#s"/><use href="#s" transform="rotate(169.2)"/><use href="#s" transform="rotate(237.6)"/></g><ellipse class="ol" rx="13.5" ry="8.4"/></g>
<g id="n_Nett_Facc" transform="translate(884 616.35)"><ellipse class="pb" rx="13.5" ry="8.4"/><g transform="scale(1 -0.6222)"><circle class="pg" r="6.75" pathLength="100" stroke-dasharray="85 100"/><circle class="po" r="6.75" pathLength="100" stroke-dasharray="8 100" stroke-dashoffset="-85"/><use href="#s"/><use href="#s" transform="rotate(306)"/><use href="#s" transform="rotate(334.8)"/></g><ellipse class="ol" rx="13.5" ry="8.4"/></g>
<g id="n_GG" transform="translate(445 766.95)"><ellipse class="pb" rx="13.5" ry="8.4"/><g transform="scale(1 -0.6222)"><circle class="pg" r="6.75" pathLength="100" stroke-dasharray="47 100"/><circle class="po" r="6.75" pathLength="100" stroke-dasharray="17 100" stroke-dashoffset="-47"/><use href="#s"/><use href="#s" transform="rotate(169.2)"/><use href="#s" transform="rotate(230.4)"/></g><ellipse class="ol" rx="13.5" ry="8.4"/></g>
<g id="n_G" transform="translate(443 787.4)"><ellipse class="pb" rx="13.5" ry="8.4"/><g transform="scale(1 -0.6222)"><circle class="pg" r="6.75" pathLength="100" stroke-dasharray="46 100"/><circle class="po" r="6.75" pathLength="100" stroke-dasharray="18 100" stroke-dashoffset="-46"/><use href="#s"/><use href="#s" transform="rotate(165.6)"/><use href="#s" transform="rotate(230.4)"/></g><ellipse class="ol" rx="13.5" ry="8.4"/></g>
<g id="n_HH" transform="translate(579.5 741.3)"><ellipse class="pb" rx="13.5" ry="8.4"/><g transform="scale(1 -0.6222)"><circle class="pg" r="6.75" pathLength="100" stroke-dasharray="50 100"/><circle class="po" r="6.75" pathLength="100" stroke-dasharray="25 100" stroke-dashoffset="-50"/><use href="#s"/><use href="#s" transform="rotate(180)"/><use href="#s" transform="rotate(270)"/></g><ellipse class="ol" rx="13.5" ry="8.4"/></g>
<g id="n_II" transform="translate(633.5 705.4)"><ellipse class="pb" rx="13.5" ry="8.4"/><g transform="scale(1 -0.6222)"><circle class="pg" r="6.75" pathLength="100" stroke-dasharray="50 100"/><circle class="po" r="6.75" pathLength="100" stroke-dasharray="25 100" stroke-dashoffset="-50"/><use href="#s"/><use href="#s" transform="rotate(180)"/><use href="#s" transform="rotate(270)"/></g><ellipse class="ol" rx="13.5" ry="8.4"/></g>
<g id="n_JJ" transform="translate(697 677.65)"><ellipse class="pb" rx="13.5" ry="8.4"/><g transform="scale(1 -0.6222)"><circle class="pg" r="6.75" pathLength="100" stroke-dasharray="50 100"/><circle class="po" r="6.75" pathLength="100" stroke-dasharray="25 100" stroke-dashoffset="-50"/><use href="#s"/><use href="#s" transform="rotate(180)"/><use href="#s" transform="rotate(270)"/></g><ellipse class="ol" rx="13.5" ry="8.4"/></g>
<g id="n_Sime_Dyso" transform="translate(787 662.35)"><ellipse class="pb" rx="13.5" ry="8.4"/><g transform="scale(1 -0.6222)"><circle class="pg" r="6.75" pathLength="100" stroke-dasharray="27 100"/><circle class="po" r="6.75" pathLength="100" stroke-dasharray="64 100" stroke-dashoffset="-27"/><use href="#s"/><use href="#s" transform="rotate(97.2)"/><use href="#s" transform="rotate(327.6)"/></g><ellipse class="ol" rx="13.5" ry="8.4"/></g>
<g id="n_Kaup_Nemi" transform="translate(733 692.95)"><ellipse class="pb" rx="13.5" ry="8.4"/><g transform="scale(1 -0.6222)"><circle class="pg" r="6.75" pathLength="100" stroke-dasharray="50 100"/><circle class="po" r="6.75" pathLength="100" stroke-dasharray="25 100" stroke-dashoffset="-50"/><use href="#s"/><use href="#s" transform="rotate(180)"/><use href="#s" transform="rotate(270)"/></g><ellipse class="ol" rx="13.5" ry="8.4"/></g>
<g id="n_KK" transform="translate(707.5 733.2)"><ellipse class="pb" rx="13.5" ry="8.4"/><g transform="scale(1 -0.6222)"><circle class="pg" r="6.75" pathLength="100" stroke-dasharray="42 100"/><circle class="po" r="6.75" pathLength="100" stroke-dasharray="19 100" stroke-dashoffset="-42"/><use href="#s"/><use href="#s" transform="rotate(151.2)"/><use href="#s" transform="rotate(219.6)"/></g><ellipse class="ol" rx="13.5" ry="8.4"/></g>
<g id="n_LL" transform="translate(851 750.4)"><ellipse class="pb" rx="13.5" ry="8.4"/><g transform="scale(1 -0.6222)"><circle class="pg" r="6.75" pathLength="100" stroke-dasharray="10 100"/><circle class="po" r="6.75" pathLength="100" stroke-dasharray="12 100" stroke-dashoffset="-10"/><use href="#s"/><use href="#s" transform="rotate(36)"/><use href="#s" transform="rotate(79.2)"/></g><ellipse class="ol" rx="13.5" ry="8.4"/></g>
<g id="n_Anguilla" transform="translate(893 738.95)"><ellipse class="pb" rx="13.5" ry="8.4"/><g transform="scale(1 -0.6222)"><circle class="pg" r="6.75" pathLength="100" stroke-dasharray="2 100"/><circle class="po" r="6.75" pathLength="100" stroke-dasharray="3 100" stroke-dashoffset="-2"/><use href="#s"/><use href="#s" transform="rotate(7.2)"/><use href="#s" transform="rotate(18)"/></g><ellipse class="ol" rx="13.5" ry="8.4"/></g>
</g>
<g id="tips">
<g id="t0"><text x="918" y="47.7">Albula vulpes</text></g>
<g id="t1"><text x="918" y="63">Megalops cyprinoides</text></g>
<g id="t2"><text x="918" y="78.4">Elops saurus</text></g>
<g id="t3"><text x="918" y="93.7">Moringua javanica</text></g>
<g id="t4"><text x="918" y="109">Paraconger notialis</text></g>
<g id="t5"><text x="918" y="124.3">Serrivomer sector</text></g>
<g id="t6"><text x="918" y="139.7">119</text></g>
<g id="t7"><text x="918" y="155">Ariosoma balearicum</text></g>
<g id="t8"><text x="918" y="170.3">Parabathymyrus macrophthalmus</text></g>
<g id="t9"><text x="918" y="185.6">Ariosoma anago</text></g>
<g id="t10"><text x="918" y="201">Cynoponticus ferox</text></g>
<g id="t11"><text x="918" y="216.3">115</text></g>
<g id="t12"><text x="918" y="231.6">Congresox talabonoides</text></g>
<g id="t13"><text x="918" y="246.9">Scuticaria tigrina</text></g>
<g id="t14"><text x="918" y="262.2">Uropterygius micropterus</text></g>
<g id="t15"><text x="918" y="277.6">Gymnothorax flavimarginatus</text></g>
<g id="t16"><text x="918" y="292.9">Gymnothorax kidako</text></g>
<g id="t17"><text x="918" y="308.2">111</text></g>
<g id="t18"><text x="918" y="323.5">Gymnothorax pseudothyrsoideus</text></g>
<g id="t19"><text x="918" y="338.9">Gymnothorax castaneus</text></g>
<g id="t20"><text x="918" y="354.2">Gymnothorax moringa</text></g>
<g id="t21"><text x="918" y="369.5">Oxyconger leptognathus</text></g>
<g id="t22"><text x="918" y="384.8">Myrichthys magnificus</text></g>
<g id="t23"><text x="918" y="400.2">Ichthyapus ophioneus</text></g>
<g id="t24"><text x="918" y="415.5">Pisodonophis cancrivorus</text></g>
<g id="t25"><text x="918" y="430.8">Brachysomophis crocodilinus</text></g>
<g id="t26"><text x="918" y="446.1">Myrichthys breviceps</text></g>
<g id="t27"><text x="918" y="461.5">99</text></g>
<g id="t28"><text x="918" y="476.8">Myrichthys maculosus</text></g>
<g id="t29"><text x="918" y="492.1">Scolecenchelys breviceps</text></g>
<g id="t30"><text x="918" y="507.4">94</text></g>
<g id="t31"><text x="918" y="522.7">91</text></g>
<g id="t32"><text x="918" y="538.1">Saurenchelys fierasfer</text></g>
<g id="t33"><text x="918" y="553.4">Rhynchoconger flavus</text></g>
<g id="t34"><text x="918" y="568.7">Bathyuroconger vicinus</text></g>
<g id="t35"><text x="918" y="584">Uroconger lepturus</text></g>
<g id="t36"><text x="918" y="599.4">Gavialiceps taeniola</text></g>
<g id="t37"><text x="918" y="614.7">Nettastoma melanurum</text></g>
<g id="t38"><text x="918" y="630">Facciolella gilbertii</text></g>
<g id="t39"><text x="918" y="645.3">Gnathophis longicauda</text></g>
<g id="t40"><text x="918" y="660.7">Simenchelys parasitica</text></g>
<g id="t41"><text x="918" y="676">Dysomma anguillare</text></g>
<g id="t42"><text x="918" y="691.3">Kaupichthys hyoproroides</text></g>
<g id="t43"><text x="918" y="706.6">Nemichthys scolopaceus</text></g>
<g id="t44"><text x="918" y="722">Serrivomer beanii</text></g>
<g id="t45"><text x="918" y="737.3">Anguilla japonica</text></g>
<g id="t46"><text x="918" y="752.6">Anguilla bicolor</text></g>
<g id="t47"><text x="918" y="767.9">74</text></g>
<g id="t48"><text x="918" y="783.2">Venefica proboscidea</text></g>
<g id="t49"><text x="918" y="798.6">69</text></g>
<g id="t50"><text x="918" y="813.9">Kaupichthys nuchalis</text></g>
<g id="t51"><text x="918" y="829.2">Moringua edwardsi</text></g>
</g>
<g id="legend">
<rect class="key" x="54" y="829" width="26" height="25" fill="#32CD32"/>
<text class="lg" x="87" y="848.5">bite</text>
<rect class="key" x="284" y="829" width="26" height="25" fill="#FFA500"/>
<text class="lg" x="317" y="848.5">kiss</text>
<rect class="key" x="514" y="829" width="26" height="25" fill="#1E90FF"/>
<text class="lg" x="547" y="848.5">suction</text>
</g>
</svg>
